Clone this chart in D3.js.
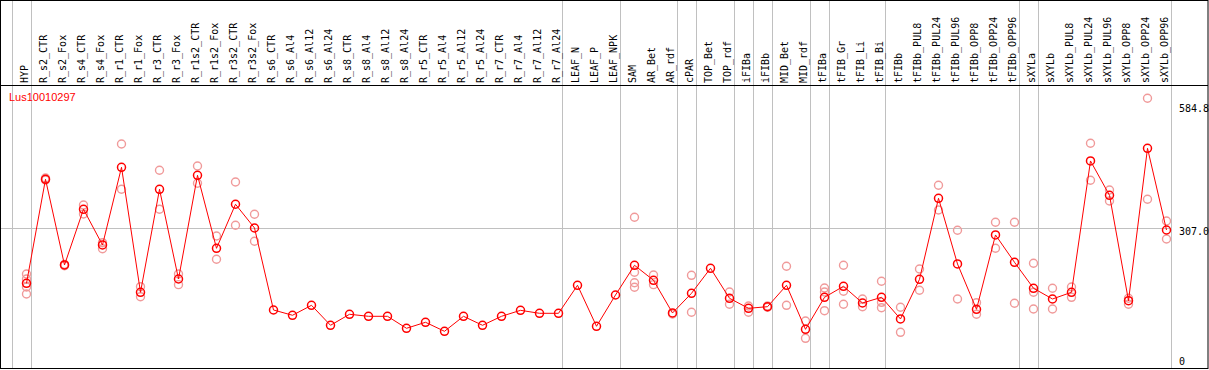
<!DOCTYPE html>
<html>
<head>
<meta charset="utf-8">
<script src="https://cdn.jsdelivr.net/npm/d3@7"></script>
<style>
  body { margin: 0; background: #fff; }
  svg { display: block; }
</style>
</head>
<body>
<svg width="1209" height="370"></svg>
<script>
    const geneId = "Lus10010297";

    const samples = [
      "HYP", "R_s2_CTR", "R_s2_Fox", "R_s4_CTR", "R_s4_Fox", "R_r1_CTR", "R_r1_Fox",
      "R_r3_CTR", "R_r3_Fox", "R_r1s2_CTR", "R_r1s2_Fox", "R_r3s2_CTR", "R_r3s2_Fox",
      "R_s6_CTR", "R_s6_Al4", "R_s6_Al12", "R_s6_Al24", "R_s8_CTR", "R_s8_Al4", "R_s8_Al12",
      "R_s8_Al24", "R_r5_CTR", "R_r5_Al4", "R_r5_Al12", "R_r5_Al24", "R_r7_CTR", "R_r7_Al4",
      "R_r7_Al12", "R_r7_Al24", "LEAF_N", "LEAF_P", "LEAF_NPK", "SAM", "AR_Bet", "AR_rdf",
      "cPAR", "TOP_Bet", "TOP_rdf", "iFIBa", "iFIBb", "MID_Bet", "MID_rdf", "tFIBa",
      "tFIB_Gr", "tFIB_Li", "tFIB_Bi", "tFIBb", "tFIBb_PUL8", "tFIBb_PUL24", "tFIBb_PUL96",
      "tFIBb_OPP8", "tFIBb_OPP24", "tFIBb_OPP96", "sXYLa", "sXYLb", "sXYLb_PUL8",
      "sXYLb_PUL24", "sXYLb_PUL96", "sXYLb_OPP8", "sXYLb_OPP24", "sXYLb_OPP96"
    ];

    // mean expression per sample
    const meanValues = [
      189.5, 411.8, 228.7, 347.7, 271.4, 437.4, 170.3, 390.4, 198.7, 420.3, 264.3, 358.4, 307.7,
      132.5, 121.2, 142.5, 99.8, 123.3, 119.0, 119.0, 93.4, 106.2, 87.0, 119.0, 99.8, 119.0,
      131.8, 125.4, 125.4, 185.3, 97.7, 164.5, 228.0, 196.0, 126.1, 168.2, 221.6, 157.5,
      136.1, 139.5, 185.3, 91.2, 159.6, 183.1, 147.4, 159.6, 113.3, 198.1, 371.2, 230.8,
      134.0, 292.8, 234.4, 178.9, 156.0, 170.3, 450.9, 377.6, 152.4, 478.0, 303.4
    ];

    // individual replicate values
    const replicates = [
      [209.4, 198.7, 181.6, 166.7], [414.6, 410.3], [227.0, 230.0], [356.9, 337.6],
      [276.3, 263.5], [487.2, 390.4], [182.3, 160.9], [431.0, 347.7], [209.4, 186.6],
      [440.2, 403.2], [290.6, 240.8], [406.0, 313.5], [337.0, 279.3],
      [], [], [], [], [], [], [], [], [], [], [], [], [], [], [], [], [], [], [],
      [330.6, 213.1, 190.8, 181.0], [207.3, 186.6], [123.9], [206.6, 127.6], [],
      [171.0, 144.7], [141.0, 127.6], [141.0, 138.3], [225.9, 142.5], [109.0, 72.0],
      [179.5, 171.0, 131.0], [228.0, 172.5, 144.7], [156.0, 139.5], [193.8, 148.9, 137.4],
      [138.3, 84.8], [220.1, 174.6], [399.0, 346.2], [302.8, 156.0], [148.1, 123.3],
      [319.9, 264.3], [319.9, 146.8], [232.3, 170.3, 134.6], [178.9, 134.6], [181.6, 159.6],
      [488.7, 409.7], [388.9, 365.4], [157.5, 144.7], [584.8, 369.0], [322.7, 284.2]
    ];

    // first sample index of each tissue group (last entry closes the final group)
    const groupStarts = [0, 1, 29, 32, 35, 36, 38, 39, 40, 42, 43, 46, 53, 54, 61];

    const yTicks = [0, 307.0, 584.8];

    const svg = d3.select("svg"),
          W = +svg.attr("width"),
          headerBottom = 85.5,
          frameBottom = 368.5;

    const x = d3.scaleLinear()
      .domain([0, samples.length])
      .range([11.5, 1170.5]);
    const px = i => x(i) + 15;   // marker sits near right side of its cell

    const y = d3.scaleLinear()
      .domain([0, 584.8])
      .range([372, 98.3]);

    // group separators
    svg.append("g").selectAll("line")
      .data(groupStarts)
      .join("line")
      .attr("x1", d => Math.round(x(d)) + 0.5)
      .attr("x2", d => Math.round(x(d)) + 0.5)
      .attr("y1", 0)
      .attr("y2", frameBottom)
      .attr("stroke", "#c0c0c0")
      .attr("stroke-width", 1);

    // reference value line
    svg.append("line")
      .attr("x1", 0)
      .attr("x2", Math.round(x(samples.length)) + 0.5)
      .attr("y1", Math.round(y(307.0)) + 0.5)
      .attr("y2", Math.round(y(307.0)) + 0.5)
      .attr("stroke", "#c0c0c0");

    // frame
    svg.append("rect")
      .attr("x", 0.5).attr("y", 0.5)
      .attr("width", W - 1.5).attr("height", frameBottom - 0.5)
      .attr("fill", "none")
      .attr("stroke", "#000");

    svg.append("line")
      .attr("x1", 0).attr("x2", W - 1)
      .attr("y1", headerBottom).attr("y2", headerBottom)
      .attr("stroke", "#000");

    // rotated sample labels
    svg.append("g").selectAll("text")
      .data(samples)
      .join("text")
      .attr("transform", (d, i) => `translate(${px(i) + 1.5},83) rotate(-90)`)
      .style("font-family", "DejaVu Sans Mono, monospace")
      .style("font-size", "10px")
      .attr("fill", "#000")
      .text(d => d);

    // gene id
    svg.append("text")
      .attr("x", 9)
      .attr("y", 101)
      .style("font-family", "Liberation Sans, Arial, sans-serif")
      .style("font-size", "11px")
      .attr("fill", "#ff0000")
      .text(geneId);

    // right value labels
    svg.append("g").selectAll("text")
      .data(yTicks)
      .join("text")
      .attr("x", 1179)
      .attr("y", d => Math.max(112, Math.min(364.5, y(d) + 6.5)))
      .style("font-family", "DejaVu Sans Mono, monospace")
      .style("font-size", "10px")
      .attr("fill", "#000")
      .text(d => d === 0 ? "0" : d.toFixed(1));

    // replicate markers
    const reps = [];
    replicates.forEach((arr, i) => arr.forEach(v => reps.push({i, v})));

    svg.append("g").selectAll("circle")
      .data(reps)
      .join("circle")
      .attr("cx", d => px(d.i))
      .attr("cy", d => y(d.v))
      .attr("r", 4)
      .attr("fill", "none")
      .attr("stroke", "#f09a9a")
      .attr("stroke-width", 1.4);

    // mean line
    const line = d3.line()
      .x((d, i) => px(i))
      .y(d => y(d));

    svg.append("path")
      .datum(meanValues)
      .attr("fill", "none")
      .attr("stroke", "#ff0000")
      .attr("stroke-width", 1)
      .attr("d", line);

    svg.append("g").selectAll("circle")
      .data(meanValues)
      .join("circle")
      .attr("cx", (d, i) => px(i))
      .attr("cy", d => y(d))
      .attr("r", 4)
      .attr("fill", "none")
      .attr("stroke", "#ff0000")
      .attr("stroke-width", 1.5);
</script>
</body>
</html>
